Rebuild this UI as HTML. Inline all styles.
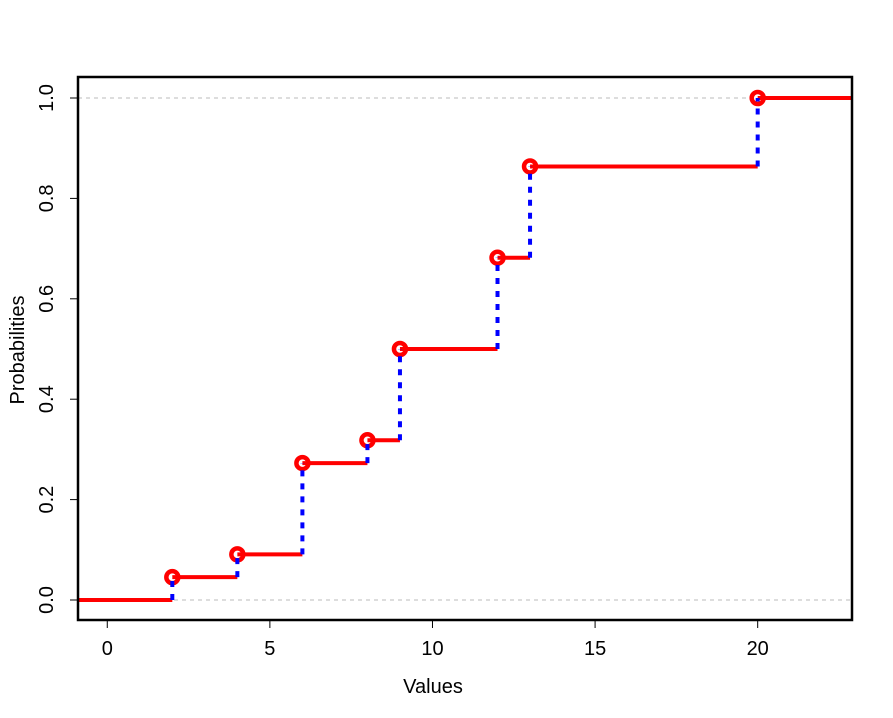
<!DOCTYPE html>
<html><head><meta charset="utf-8"><style>
html,body{margin:0;padding:0;background:#fff;}
svg{display:block;font-family:"Liberation Sans",Arial,sans-serif;}
</style></head><body>
<svg id="chart" width="893" height="718" viewBox="0 0 893 718" xmlns="http://www.w3.org/2000/svg"></svg>
<script>
const xValues = [2, 4, 6, 8, 9, 12, 13, 20];
const counts = [1, 1, 4, 1, 4, 4, 4, 3];
const xTicks = [0, 5, 10, 15, 20];
const yTicks = [0, 0.2, 0.4, 0.6, 0.8, 1.0];
const yTickLabels = ["0.0", "0.2", "0.4", "0.6", "0.8", "1.0"];

const L = 78, R = 852, T = 77, B = 620;
const xMin = -0.9, xMax = 22.9;
function sx(v){ return L + (v - xMin) / (xMax - xMin) * (R - L); }
function sy(p){ return 600 - p * 502; }

const svg = document.getElementById('chart');
const NS = 'http://www.w3.org/2000/svg';
function mk(tag, attrs, parent){
  const e = document.createElementNS(NS, tag);
  for (const k in attrs) e.setAttribute(k, attrs[k]);
  (parent || svg).appendChild(e);
  return e;
}

const total = counts.reduce((a,b)=>a+b,0);
const probs = [];
let c = 0;
for (const n of counts){ c += n; probs.push(c / total); }

for (const p of [0, 1]){
  const g = mk('line', {x1:L, x2:R, y1:sy(p), y2:sy(p), stroke:'#bbbbbb', 'stroke-width':1, 'stroke-dasharray':'4,4'});
  
  
}

const h0 = mk('line', {x1:L, x2:sx(xValues[0]), y1:sy(0), y2:sy(0), stroke:'#ff0000', 'stroke-width':4});


for (let i = 0; i < xValues.length; i++){
  const x2 = i < xValues.length - 1 ? sx(xValues[i+1]) : R;
  const h = mk('line', {x1:sx(xValues[i]), x2:x2, y1:sy(probs[i]), y2:sy(probs[i]), stroke:'#ff0000', 'stroke-width':4});
  
  
}

for (let i = 0; i < xValues.length; i++){
  const pt = mk('circle', {cx:sx(xValues[i]), cy:sy(probs[i]), r:6, fill:'none', stroke:'#ff0000', 'stroke-width':4.5});
  
  
}

for (let i = 0; i < xValues.length; i++){
  const prev = i === 0 ? 0 : probs[i-1];
  const v = mk('line', {x1:sx(xValues[i]), x2:sx(xValues[i]), y1:sy(prev), y2:sy(probs[i]), stroke:'#0000ff', 'stroke-width':4, 'stroke-dasharray':'6,7'});
  
  
}

const box = mk('rect', {x:L, y:T, width:R-L, height:B-T, fill:'none', stroke:'#000', 'stroke-width':2.5});



for (const t of xTicks){
  const tk = mk('line', {x1:sx(t), x2:sx(t), y1:B, y2:B+8, stroke:'#000', 'stroke-width':1});
  
  
  const lb = mk('text', {x:sx(t), y:655, 'text-anchor':'middle', 'font-size':20});
  lb.textContent = t;
  
  
}
yTicks.forEach((t, i) => {
  const tk = mk('line', {x1:L-8, x2:L, y1:sy(t), y2:sy(t), stroke:'#000', 'stroke-width':1});
  
  
  const lb = mk('text', {x:0, y:0, 'text-anchor':'middle', 'font-size':20, transform:'translate(53,' + sy(t) + ') rotate(-90)'});
  lb.textContent = yTickLabels[i];
  
  
});

const xt = mk('text', {x:433, y:693, 'text-anchor':'middle', 'font-size':20});
xt.textContent = 'Values';


const yt = mk('text', {x:0, y:0, 'text-anchor':'middle', 'font-size':20, transform:'translate(24,350) rotate(-90)'});
yt.textContent = 'Probabilities';


</script>
</body></html>
